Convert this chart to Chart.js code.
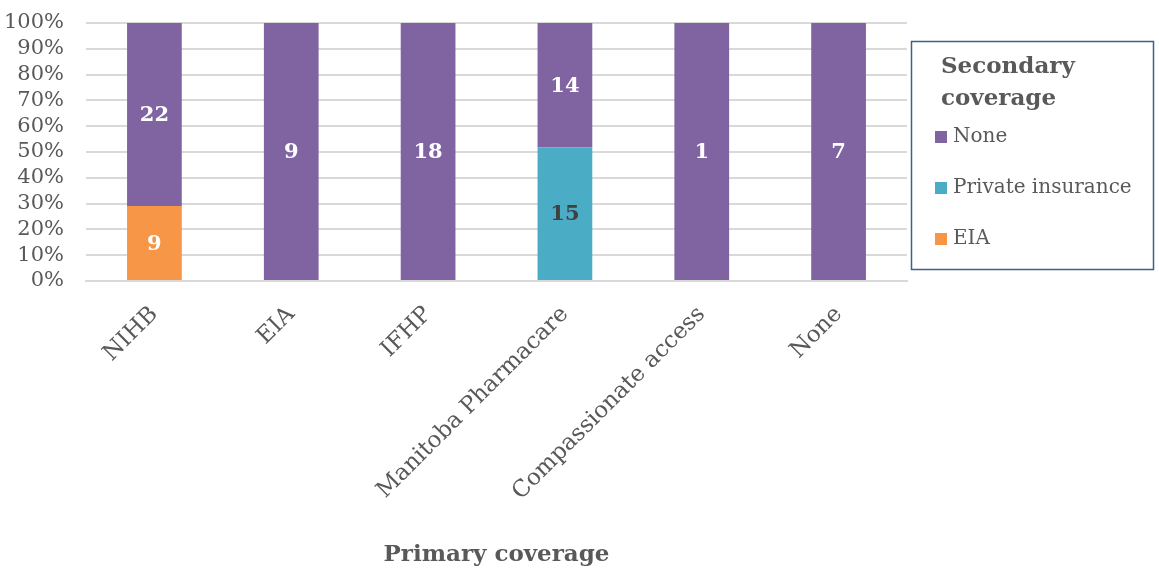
<!DOCTYPE html>
<html>
<head>
<meta charset="utf-8">
<script src="https://cdn.jsdelivr.net/npm/chart.js@4"></script>
<style>
  html, body { margin: 0; padding: 0; background: #fff; }
  #wrap { width: 1159px; height: 571px; position: relative; }
</style>
</head>
<body>
<div id="wrap"><canvas id="coverageChart"></canvas></div>
<script>
const categories = ['NIHB', 'EIA', 'IFHP', 'Manitoba Pharmacare', 'Compassionate access', 'None'];
// counts of secondary coverage within each primary coverage group
const eiaCounts = [9, 0, 0, 0, 0, 0];
const privateCounts = [0, 0, 0, 15, 0, 0];
const noneCounts = [22, 9, 18, 14, 1, 7];
const yTicks = [0, 10, 20, 30, 40, 50, 60, 70, 80, 90, 100];

const FONT = "'DejaVu Serif', serif";
const GREY = '#595959';

const totals = categories.map((_, i) => eiaCounts[i] + privateCounts[i] + noneCounts[i]);
const toPct = arr => arr.map((v, i) => v / totals[i] * 100);

const seriesList = [
    { label: 'EIA', counts: eiaCounts, color: '#F79646', text: '#ffffff' },
    { label: 'Private insurance', counts: privateCounts, color: '#4BACC6', text: '#404040' },
    { label: 'None', counts: noneCounts, color: '#8064A2', text: '#ffffff' }
];

// draws count labels in the middle of each segment
const countLabels = {
    id: 'countLabels',
    afterDatasetsDraw(chart) {
        const ctx = chart.ctx;
        ctx.save();
        ctx.font = "bold 21px " + FONT;
        ctx.textAlign = 'center';
        ctx.textBaseline = 'middle';
        chart.data.datasets.forEach((ds, di) => {
            const meta = chart.getDatasetMeta(di);
            meta.data.forEach((bar, i) => {
                const n = ds.counts[i];
                if (!n) return;
                ctx.fillStyle = ds.textColor;
                ctx.fillText(String(n), bar.x, (bar.y + bar.base) / 2 + 1);
            });
        });
        ctx.restore();
    }
};

// legend box on the right, like the original
const sideLegend = {
    id: 'sideLegend',
    afterDraw(chart) {
        const ctx = chart.ctx;
        const x0 = 911;
        ctx.save();
        ctx.strokeStyle = '#3E5F8A';
        ctx.lineWidth = 1.5;
        ctx.strokeRect(x0 + 0.5, 41.5, 242, 228);
        ctx.fillStyle = GREY;
        ctx.textBaseline = 'middle';
        ctx.textAlign = 'left';
        ctx.font = "bold 23px " + FONT;
        ctx.fillText('Secondary', x0 + 30, 67);
        ctx.fillText('coverage', x0 + 30, 99);
        ctx.font = "20px " + FONT;
        const items = seriesList.slice().reverse();
        items.forEach((s, k) => {
            const cy = 137 + k * 51;
            ctx.fillStyle = s.color;
            ctx.fillRect(x0 + 24, cy - 6, 12, 12);
            ctx.fillStyle = GREY;
            ctx.fillText(s.label, x0 + 42, cy);
        });
        ctx.restore();
    }
};

new Chart(document.getElementById('coverageChart'), {
    type: 'bar',
    data: {
        labels: categories,
        datasets: seriesList.map(s => ({
            label: s.label,
            data: toPct(s.counts),
            counts: s.counts,
            textColor: s.text,
            backgroundColor: s.color,
            categoryPercentage: 1,
            barPercentage: 0.4
        }))
    },
    options: {
        responsive: true,
        maintainAspectRatio: false,
        animation: false,
        layout: { padding: { top: 23, right: 252, left: 0, bottom: 2 } },
        plugins: {
            legend: { display: false },
            tooltip: { enabled: false }
        },
        scales: {
            x: {
                stacked: true,
                afterFit(axis) { axis.height = 288; },
                grid: { display: false },
                border: { color: '#D9D9D9', width: 2 },
                ticks: {
                    color: GREY,
                    font: { family: FONT, size: 23 },
                    maxRotation: 45,
                    minRotation: 45,
                    padding: 12
                },
                title: {
                    display: true,
                    text: 'Primary coverage',
                    color: GREY,
                    font: { family: FONT, size: 23, weight: 'bold' },
                    padding: { top: 0, bottom: 0 }
                }
            },
            y: {
                stacked: true,
                min: 0,
                max: 100,
                afterFit(axis) { axis.width = 86; },
                afterBuildTicks(axis) {
                    axis.ticks = yTicks.map(v => ({ value: v }));
                },
                grid: {
                    color: '#D9D9D9',
                    lineWidth: 2,
                    drawTicks: true,
                    tickLength: 22,
                    tickColor: 'rgba(0,0,0,0)'
                },
                border: { display: false },
                ticks: {
                    color: GREY,
                    font: { family: FONT, size: 21 },
                    padding: 0,
                    autoSkip: false,
                    callback: v => v + '%'
                }
            }
        }
    },
    plugins: [countLabels, sideLegend]
});
</script>
</body>
</html>
